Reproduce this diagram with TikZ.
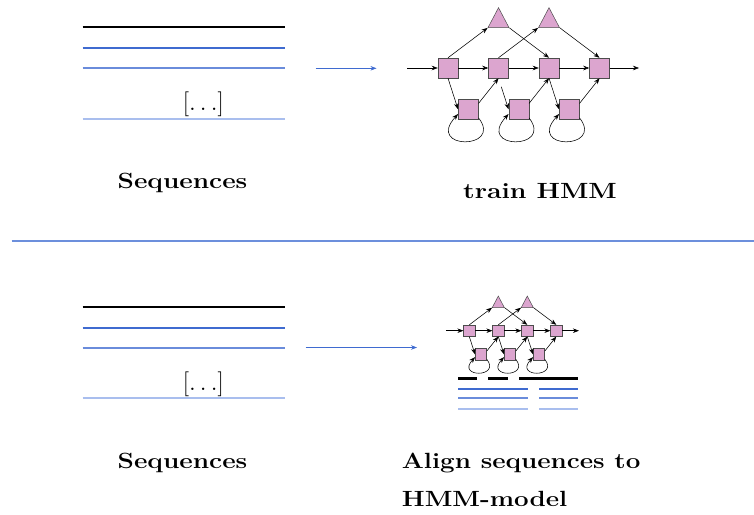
\documentclass[tikz,border=0pt]{standalone}
\usetikzlibrary{arrows.meta,shapes.geometric}
\definecolor{seqdark}{HTML}{3F6BD0}
\definecolor{seqmid}{HTML}{6A8CDB}
\definecolor{seqlight}{HTML}{A9BEEE}
\definecolor{sepblue}{HTML}{6C8FDC}
\definecolor{hmmpink}{HTML}{DCA5CF}
\tikzset{
  hst/.style={draw=black!70, fill=hmmpink, minimum size=20pt, inner sep=0pt, line width=0.5pt},
  htri/.style={draw=black!70, fill=hmmpink, isosceles triangle, isosceles triangle stretches,
     minimum width=21pt, minimum height=20pt, inner sep=0pt, rotate=90, line width=0.5pt},
  harr/.style={-{Stealth[length=6pt,width=4.5pt]}, line width=0.55pt},
  bluearr/.style={-{Stealth[length=6pt,width=4.5pt]}, draw=seqdark, line width=0.6pt},
  seqline/.style={line width=2pt},
  lab/.style={font=\fontsize{22}{26}\selectfont\bfseries, inner sep=0pt},
  dots/.style={font=\fontsize{25}{30}\selectfont, inner sep=0pt, anchor=base},
}
\newcommand{\hmmdiag}[2]{%
  \node[hst] (#1s1) at (0,0) {};
  \node[hst] (#1s2) at (50.5,0) {};
  \node[hst] (#1s3) at (101,0) {};
  \node[hst] (#1s4) at (151.5,0) {};
  \node[hst] (#1l1) at (20.3,-41.3) {};
  \node[hst] (#1l2) at (70.8,-41.3) {};
  \node[hst] (#1l3) at (121.3,-41.3) {};
  \node[htri, anchor=apex] (#1t1) at (50.5,61) {};
  \node[htri, anchor=apex] (#1t2) at (101,61) {};
  \coordinate (#1in) at (-41,0);
  \coordinate (#1out) at (191,0);
  \draw[harr] (#1in) -- (#1s1);
  \draw[harr] (#1s1) -- (#1s2);
  \draw[harr] (#1s2) -- (#1s3);
  \draw[harr] (#1s3) -- (#1s4);
  \draw[harr] (#1s4) -- (#1out);
  \draw[harr] (#1s1.north) -- (#1t1.left corner);
  \draw[harr] (#1t1.right corner) -- (#1s3.north);
  \draw[harr] (#1s2.north) -- (#1t2.left corner);
  \draw[harr] (#1t2.right corner) -- (#1s4.north);
  \draw[harr] (#1s1.south) -- (#1l1.west);
  \draw[harr] (#1l1.30) -- (#1s2.south);
  \draw[harr, shorten <=#2] (#1s2.south) -- (#1l2.west);
  \draw[harr] (#1l2.30) -- (#1s3.south);
  \draw[harr] (#1s3.south) -- (#1l3.west);
  \draw[harr] (#1l3.30) -- (#1s4.south);
  \draw[harr] (#1l1.-40) .. controls +(25,-32) and +(-33,-36) .. (#1l1.205);
  \draw[harr] (#1l2.-40) .. controls +(25,-32) and +(-33,-36) .. (#1l2.205);
  \draw[harr] (#1l3.-40) .. controls +(25,-32) and +(-33,-36) .. (#1l3.205);
}
\begin{document}
\begin{tikzpicture}[x=1pt,y=1pt]
\useasboundingbox (0,0) rectangle (754,-514);
% ---------- top half ----------
\draw[seqline, black]    (82.7,-27.3)  -- (285.3,-27.3);
\draw[seqline, seqdark]  (82.7,-48)    -- (285.3,-48);
\draw[seqline, seqmid]   (82.7,-68.3)  -- (285.3,-68.3);
\draw[seqline, seqlight] (82.7,-118.7) -- (285.3,-118.7);
\node[dots] (dotsA) at (203.4,-110) {$[\ldots]$};
\coordinate (arrA1) at (315.7,-68.3);
\coordinate (arrA2) at (376.5,-68.3);
\draw[bluearr] (arrA1) -- (arrA2);
\begin{scope}[shift={(448,-68)}]
  \hmmdiag{a}{9pt}
\end{scope}
\node[lab, anchor=base] (seqA) at (182.5,-188) {\scalebox{1.19}[1]{Sequences}};
\node[lab, anchor=base] (trainA) at (540,-198.7) {\scalebox{1.21}[1]{train HMM}};
% ---------- separator ----------
\draw[seqline, sepblue] (11.7,-240.5) -- (754,-240.5);
% ---------- bottom half ----------
\draw[seqline, black]    (82.7,-307.3) -- (285.3,-307.3);
\draw[seqline, seqdark]  (82.7,-327.7) -- (285.3,-327.7);
\draw[seqline, seqmid]   (82.7,-348)   -- (285.3,-348);
\draw[seqline, seqlight] (82.7,-398.3) -- (285.3,-398.3);
\node[dots] (dotsB) at (203.4,-390) {$[\ldots]$};
\coordinate (arrB1) at (305.7,-347.5);
\coordinate (arrB2) at (417,-347.5);
\draw[bluearr] (arrB1) -- (arrB2);
\begin{scope}[shift={(469.3,-330.7)}, scale=0.574, transform shape]
  \hmmdiag{b}{0pt}
\end{scope}
% alignment bars
\draw[line width=2.6pt, black] (458.3,-378.3) -- (477.3,-378.3);
\draw[line width=2.6pt, black] (488.3,-378.3) -- (507.7,-378.3);
\draw[line width=2.6pt, black] (519,-378.3) -- (578.3,-378.3);
\draw[seqline, seqdark]  (458.3,-389) -- (528.3,-389);
\draw[seqline, seqdark]  (539.3,-389) -- (578.3,-389);
\draw[seqline, seqmid]   (458.3,-398.3) -- (528.3,-398.3);
\draw[seqline, seqmid]   (539.3,-398.3) -- (578.3,-398.3);
\draw[seqline, seqlight] (458.3,-409) -- (528.3,-409);
\draw[seqline, seqlight] (539.3,-409) -- (578.3,-409);
\node[lab, anchor=base] (seqB) at (182.5,-468) {\scalebox{1.19}[1]{Sequences}};
\node[lab, anchor=base west] (alignA) at (401.7,-468.3) {\scalebox{1.18}[1]{Align sequences to}};
\node[lab, anchor=base west] (alignB) at (401.7,-506.7) {\scalebox{1.18}[1]{HMM-model}};
\end{tikzpicture}
\end{document}
